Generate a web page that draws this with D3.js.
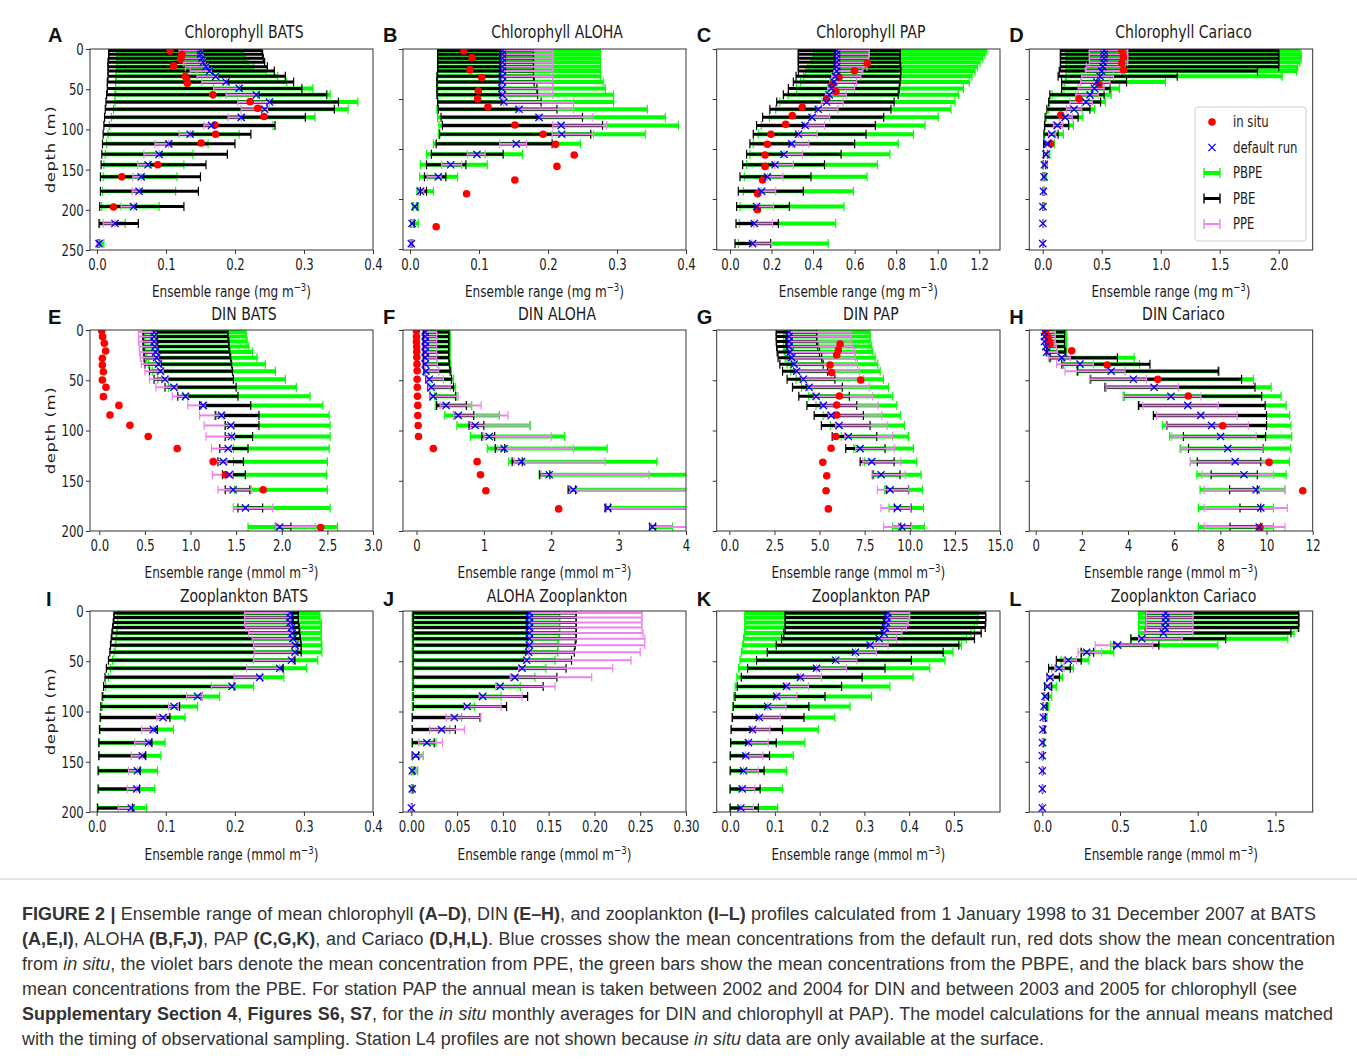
<!DOCTYPE html>
<html><head><meta charset="utf-8">
<script src="https://cdn.jsdelivr.net/npm/d3@7"></script>
<style>body{margin:0;background:#fff}svg{display:block}</style>
</head><body>
<svg id="c" width="1357" height="1060"></svg>
<script>
// ---------------- DATA ----------------
const DEPTH_CHL = [2,6.5,11.5,16.5,22,27.5,34,41,49,57,66,75,85,95,106,118,131,144,159,177,196,217,242];
const DEPTH_DIN = [2,6.5,11.5,16.5,22,27.5,34,41,49,57,66,75,85,95,106,118,131,144,159,177,196];
const DEPTH_ZOO = [2,6.5,11.5,16.5,22,27.5,34,41,49,57,66,75,85,95,106,118,131,144,159,177,196];

// A Chlorophyll BATS
const A_pbpeLo=[.029,.029,.029,.029,.029,.028,.028,.027,.027,.026,.026,.024,.021,.018,.016,.014,.012,.010,.009,.008,.007,.004,.002];
const A_pbpeHi=[.211,.212,.215,.219,.227,.245,.262,.275,.313,.338,.378,.364,.316,.255,.206,.161,.139,.126,.116,.114,.090,.041,.010];
const A_pbeLo=[.017,.017,.017,.016,.016,.016,.016,.015,.015,.014,.013,.012,.011,.010,.009,.008,.007,.006,.005,.005,.004,.003,.001];
const A_pbeHi=[.239,.240,.241,.243,.247,.257,.273,.285,.297,.333,.350,.344,.302,.258,.223,.200,.189,.158,.150,.147,.126,.060,.004];
const A_ppeLo=[.119,.120,.122,.125,.128,.135,.145,.152,.169,.187,.204,.209,.190,.155,.119,.084,.068,.059,.052,.051,.035,.009,.000];
const A_ppeHi=[.152,.152,.154,.157,.161,.166,.175,.188,.207,.233,.250,.247,.209,.168,.135,.104,.090,.076,.064,.062,.054,.026,.003];
const A_default=[.150,.150,.152,.154,.158,.163,.172,.187,.206,.231,.250,.243,.209,.166,.135,.104,.090,.074,.064,.061,.053,.026,.003];
const A_insituDepth=[2.4,6.6,9.5,12.9,21,34,38,42.7,57,65.5,73.8,84,94.5,106,117,144,159,196.5];
const A_insituValue=[.106,.123,.122,.121,.111,.128,.130,.131,.168,.222,.233,.242,.171,.172,.151,.088,.036,.024];

// B Chlorophyll ALOHA
const B_pbpeLo=[.040,.040,.040,.040,.040,.040,.040,.040,.040,.040,.040,.039,.040,.042,.041,.034,.024,.015,.014,.010,.004,.001,.000];
const B_pbpeHi=[.276,.276,.276,.276,.276,.276,.276,.280,.283,.295,.295,.344,.370,.389,.341,.247,.163,.112,.069,.034,.012,.012,.004];
const B_pbeLo=[.040,.040,.040,.040,.040,.040,.039,.039,.039,.039,.040,.041,.045,.047,.043,.038,.031,.024,.021,.015,.005,.002,.001];
const B_pbeHi=[.179,.179,.179,.179,.179,.179,.179,.180,.184,.185,.190,.213,.250,.279,.262,.206,.135,.081,.052,.024,.010,.006,.003];
const B_ppeLo=[.133,.133,.133,.133,.133,.133,.133,.133,.133,.134,.136,.158,.187,.207,.206,.130,.083,.046,.025,.012,.005,.002,.001];
const B_ppeHi=[.207,.207,.207,.207,.207,.207,.207,.207,.207,.207,.237,.237,.265,.285,.266,.169,.109,.075,.045,.020,.009,.004,.003];
const B_default=[.134,.134,.134,.134,.134,.134,.134,.134,.133,.134,.136,.158,.187,.219,.220,.154,.097,.059,.041,.015,.007,.003,.002];
const B_insituDepth=[2.4,10.6,26,35.5,52,62,72,94.5,106,118.6,131.8,146,163,180,221];
const B_insituValue=[.078,.090,.087,.104,.099,.098,.113,.152,.193,.211,.238,.213,.152,.082,.038];

// C Chlorophyll PAP
const C_pbpeLo=[.404,.404,.40,.39,.375,.365,.355,.34,.32,.28,.24,.22,.19,.15,.136,.112,.096,.08,.069,.064,.048,.045,.04];
const C_pbpeHi=[1.236,1.228,1.217,1.204,1.191,1.180,1.165,1.152,1.124,1.10,1.083,1.064,1.003,.939,.883,.81,.77,.71,.66,.594,.549,.509,.473];
const C_pbeLo=[.329,.329,.329,.329,.329,.329,.318,.305,.281,.257,.225,.192,.157,.128,.112,.096,.080,.061,.048,.040,.032,.029,.024];
const C_pbeHi=[.819,.819,.819,.819,.822,.822,.822,.819,.815,.810,.790,.775,.740,.700,.655,.600,.535,.455,.390,.353,.286,.233,.196];
const C_ppeLo=[.514,.514,.514,.514,.514,.50,.49,.48,.47,.46,.44,.42,.39,.36,.33,.30,.26,.215,.18,.15,.13,.115,.105];
const C_ppeHi=[.670,.670,.668,.665,.66,.64,.63,.61,.60,.56,.545,.52,.48,.455,.42,.38,.35,.305,.255,.22,.21,.205,.20];
const C_default=[.514,.514,.514,.514,.514,.514,.508,.500,.489,.478,.465,.425,.395,.362,.330,.297,.260,.217,.180,.152,.128,.117,.109];
const C_insituDepth=[17.8,27,35,43.5,53,62,72.5,82.9,93.7,106,118.6,131.8,146,163,180,200];
const C_insituValue=[.661,.599,.525,.493,.51,.465,.348,.30,.268,.197,.18,.169,.169,.157,.133,.132];

// D Chlorophyll Cariaco
const D_pbpeLo=[.2,.2,.2,.2,.2,.2,.2,.19,.18,.08,.06,.05,.03,.02,.015,.01,.008,.005,.004,.003,.002,.001,0];
const D_pbpeHi=[2.18,2.19,2.19,2.18,2.16,2.15,2.03,1.04,.65,.58,.53,.44,.34,.26,.175,.10,.06,.04,.03,.02,.012,.007,.004];
const D_pbeLo=[.15,.15,.15,.15,.15,.14,.13,.16,.16,.06,.05,.035,.02,.015,.01,.008,.006,.004,.003,.002,.001,0,0];
const D_pbeHi=[2.0,2.0,2.0,2.0,2.0,1.82,1.14,.71,.57,.52,.49,.40,.30,.22,.13,.07,.04,.025,.018,.012,.008,.005,.003];
const D_ppeLo=[.395,.395,.395,.395,.37,.36,.33,.32,.30,.28,.23,.20,.14,.09,.05,.03,.015,.01,.005,.003,.002,0,0];
const D_ppeHi=[.72,.72,.72,.72,.70,.66,.60,.57,.52,.47,.42,.33,.25,.17,.11,.07,.045,.03,.02,.012,.008,.004,.002];
const D_default=[.52,.52,.52,.515,.508,.50,.486,.458,.438,.40,.367,.265,.19,.124,.076,.042,.028,.014,.011,.006,.002,.001,0];
const D_insituDepth=[2,9.5,17.8,26,44,62,82,118];
const D_insituValue=[.67,.684,.67,.684,.477,.308,.153,.068];

// E DIN BATS
const E_pbpeLo=[.5,.5,.5,.5,.51,.52,.54,.58,.64,.76,.92,1.12,1.28,1.38,1.45,1.47,1.47,1.47,1.48,1.47,1.63];
const E_pbpeHi=[1.61,1.61,1.62,1.64,1.68,1.73,1.82,1.93,2.04,2.16,2.31,2.45,2.52,2.53,2.53,2.52,2.50,2.49,2.50,2.53,2.61];
const E_pbeLo=[.48,.48,.48,.48,.49,.49,.50,.55,.60,.72,.86,1.10,1.27,1.38,1.38,1.32,1.30,1.35,1.38,1.52,1.93];
const E_pbeHi=[1.41,1.41,1.42,1.42,1.43,1.44,1.45,1.46,1.47,1.50,1.52,1.66,1.75,1.75,1.68,1.63,1.58,1.60,1.65,1.79,2.10];
const E_ppeLo=[.43,.43,.43,.44,.44,.45,.46,.50,.55,.62,.80,.97,1.10,1.15,1.17,1.23,1.26,1.24,1.30,1.47,1.93];
const E_ppeHi=[.62,.62,.62,.63,.64,.65,.67,.70,.75,.85,.97,1.16,1.36,1.47,1.48,1.45,1.40,1.46,1.67,1.90,2.37];
const E_default=[.602,.602,.602,.609,.617,.628,.650,.672,.719,.818,.945,1.139,1.339,1.442,1.449,1.412,1.358,1.423,1.467,1.602,1.978];
const E_insituDepth=[.7,6.6,13.3,20.9,28.2,34.8,41.5,49.7,57,66.3,75,84.6,94.9,106,118,131,144,159,196.6];
const E_insituValue=[.026,.036,.055,.069,.033,.033,.044,.033,.073,.044,.215,.117,.336,.536,.854,1.248,1.383,1.796,2.427];

// F DIN ALOHA
const F_pbpeLo=[.12,.12,.12,.12,.12,.12,.12,.13,.16,.20,.27,.28,.42,.60,.80,1.05,1.37,1.82,2.27,2.82,3.48];
const F_pbpeHi=[.50,.50,.50,.50,.50,.50,.51,.52,.55,.58,.60,.82,1.23,1.69,2.20,2.83,3.57,4.30,4.40,4.40,3.80];
const F_pbeLo=[.10,.10,.10,.10,.10,.10,.10,.11,.14,.17,.20,.30,.55,.78,.97,1.17,1.42,1.83,2.25,2.80,3.46];
const F_pbeHi=[.48,.48,.48,.48,.48,.48,.49,.50,.52,.55,.58,.74,.85,1.00,1.16,1.31,1.57,1.98,2.36,2.88,3.55];
const F_ppeLo=[.12,.12,.12,.12,.12,.12,.12,.13,.15,.18,.20,.35,.55,.80,1.00,1.20,1.45,1.85,2.28,2.82,3.47];
const F_ppeHi=[.30,.30,.30,.30,.30,.30,.31,.33,.40,.50,.62,.96,1.36,1.68,2.00,2.33,2.80,3.45,4.50,4.50,4.50];
const F_default=[.13,.13,.13,.13,.13,.13,.13,.14,.19,.22,.25,.44,.62,.87,1.08,1.30,1.56,1.97,2.33,2.84,3.50];
const F_insituDepth=[.7,6.6,11.6,16.6,21.6,27,34,40.5,49,57,66,75,85,95,106,118,131,144,160,178];
const F_insituValue=[0,0,0,.003,.005,.005,.008,.01,.01,.012,.015,.02,.02,.025,.03,.25,.90,.95,1.03,2.11];

// G DIN PAP
const G_pbpeLo=[3.0,3.0,3.0,3.0,3.05,3.1,3.2,3.4,3.7,4.0,4.4,4.8,5.2,5.6,6.2,6.9,7.5,8.0,8.6,8.85,9.05];
const G_pbpeHi=[7.80,7.80,7.80,7.89,7.95,8.08,8.23,8.36,8.54,8.82,9.06,9.28,9.50,9.70,9.93,10.20,10.39,10.63,10.70,10.76,10.81];
const G_pbeLo=[2.60,2.60,2.60,2.62,2.65,2.70,2.80,2.95,3.20,3.50,3.85,4.30,4.70,5.10,5.70,6.45,7.25,7.95,8.70,9.15,9.50];
const G_pbeHi=[4.84,4.84,4.84,4.90,5.00,5.12,5.20,5.45,5.85,6.26,6.65,7.06,7.43,7.80,8.17,8.63,9.13,9.46,9.93,10.07,10.07];
const G_ppeLo=[3.3,3.3,3.3,3.3,3.35,3.45,3.55,3.7,4.0,4.35,4.7,5.1,5.5,5.9,6.4,7.0,7.4,7.9,8.2,8.4,8.55];
const G_ppeHi=[6.75,6.75,6.78,6.85,6.95,7.0,7.1,7.2,7.45,7.75,7.95,8.25,8.45,8.75,9.05,9.15,9.5,9.75,9.95,10.05,10.1];
const G_default=[3.31,3.31,3.31,3.31,3.37,3.46,3.59,3.73,4.10,4.42,4.81,5.21,5.64,6.08,6.60,7.25,7.89,8.41,8.91,9.32,9.56];
const G_insituDepth=[13.9,19.9,24.9,34.8,42.4,49.7,65.7,74.6,84.6,106,117.7,131.7,145,160,178];
const G_insituValue=[6.14,6.04,5.95,5.58,5.67,7.28,6.10,5.95,5.95,5.90,5.64,5.18,5.40,5.36,5.49];

// H DIN Cariaco
const H_pbpeLo=[.48,.48,.48,.50,.55,.65,1.20,1.85,2.40,3.05,3.85,4.50,5.10,5.50,5.80,6.25,6.70,6.98,7.12,7.05,7.05];
const H_pbpeHi=[1.34,1.34,1.34,1.34,1.35,4.27,4.50,7.95,9.43,10.20,10.63,10.85,11.00,11.06,11.09,11.05,10.99,10.85,10.80,10.30,10.30];
const H_pbeLo=[.45,.45,.45,.45,.48,.62,1.13,1.80,2.35,3.00,3.80,4.45,5.10,5.68,6.40,6.62,7.00,7.60,8.40,8.85,8.42];
const H_pbeHi=[1.25,1.25,1.25,1.25,1.30,3.54,4.95,7.91,8.92,9.50,9.79,9.94,10.0,10.0,9.96,9.86,9.75,9.60,9.60,9.75,9.75];
const H_ppeLo=[.35,.35,.35,.38,.42,.55,.91,1.27,2.33,3.05,3.80,4.64,5.24,5.65,5.90,6.30,6.70,7.20,7.30,7.30,7.30];
const H_ppeHi=[.85,.85,.85,.90,.95,1.50,2.50,3.87,4.80,6.18,7.16,7.91,8.73,9.21,9.55,9.85,10.08,10.30,10.80,10.90,10.80];
const H_default=[.38,.38,.38,.43,.48,1.13,1.92,3.27,4.23,5.13,5.86,6.59,7.15,7.62,8.01,8.32,8.64,9.02,9.55,9.75,9.68];
const H_insituDepth=[.7,6.6,11.6,14,20.6,34.8,49.1,65.7,95.2,131.7,160,196.7];
const H_insituValue=[.43,.52,.59,.62,1.56,3.10,5.29,6.61,8.10,10.11,11.57,9.72];

// I Zooplankton BATS
const I_pbpeLo=[.030,.030,.030,.030,.029,.028,.027,.025,.023,.020,.017,.013,.010,.008,.006,.005,.004,.004,.003,.003,.002];
const I_pbpeHi=[.323,.323,.325,.325,.325,.325,.326,.326,.320,.304,.271,.227,.178,.146,.128,.111,.099,.093,.088,.084,.072];
const I_pbeLo=[.025,.025,.024,.023,.022,.021,.020,.019,.017,.014,.012,.010,.008,.006,.005,.004,.003,.003,.002,.002,.001];
const I_pbeHi=[.292,.292,.292,.293,.294,.295,.296,.296,.287,.270,.240,.199,.153,.120,.106,.088,.080,.071,.063,.062,.052];
const I_ppeLo=[.214,.214,.214,.216,.220,.225,.227,.228,.227,.217,.199,.166,.130,.104,.087,.065,.055,.050,.046,.044,.031];
const I_ppeHi=[.280,.280,.280,.282,.283,.285,.288,.288,.284,.265,.240,.199,.153,.118,.100,.082,.075,.066,.059,.058,.050];
const I_default=[.280,.280,.280,.282,.283,.284,.287,.287,.282,.265,.236,.196,.146,.112,.096,.082,.075,.066,.059,.058,.050];

// J ALOHA Zooplankton
const J_pbpeLo=[.001,.001,.001,.001,.001,.001,.001,.001,.001,.001,.001,.001,.001,.001,.001,.001,.001,.001,.001,.001,.001];
const J_pbpeHi=[.162,.162,.162,.162,.162,.161,.160,.160,.157,.147,.135,.119,.098,.069,.055,.042,.027,.013,.007,.002,.001];
const J_pbeLo=[.002,.002,.002,.002,.002,.002,.002,.002,.002,.002,.002,.002,.002,.002,.001,.001,.001,.001,.000,.000,.000];
const J_pbeHi=[.180,.180,.180,.180,.180,.180,.179,.178,.175,.169,.159,.144,.127,.104,.075,.048,.025,.008,.003,.002,.001];
const J_ppeLo=[.129,.129,.129,.129,.129,.129,.129,.128,.124,.117,.108,.092,.074,.058,.038,.020,.008,.002,.000,.000,.000];
const J_ppeHi=[.252,.252,.252,.252,.253,.255,.255,.250,.240,.220,.197,.157,.121,.098,.076,.058,.034,.013,.005,.003,.001];
const J_default=[.129,.129,.129,.129,.129,.129,.129,.128,.126,.121,.113,.097,.078,.061,.047,.033,.017,.005,.001,.001,.000];

// K Zooplankton PAP
const K_pbpeLo=[.033,.033,.033,.033,.032,.030,.028,.025,.022,.019,.015,.011,.008,.006,.004,.003,.002,.001,.001,.000,.000];
const K_pbpeHi=[.554,.554,.552,.546,.538,.528,.517,.498,.480,.446,.409,.357,.316,.268,.234,.197,.167,.141,.126,.117,.106];
const K_pbeLo=[.123,.123,.123,.123,.120,.115,.103,.083,.059,.039,.025,.016,.011,.007,.005,.002,.001,.000,.000,.000,.000];
const K_pbeHi=[.571,.571,.571,.570,.561,.546,.511,.476,.405,.346,.295,.249,.212,.176,.165,.117,.103,.088,.076,.067,.063];
const K_ppeLo=[.353,.351,.349,.347,.344,.333,.313,.280,.236,.193,.157,.126,.104,.084,.065,.050,.041,.035,.030,.027,.024];
const K_ppeHi=[.401,.401,.398,.394,.384,.372,.353,.327,.283,.260,.204,.175,.149,.125,.112,.089,.085,.073,.063,.055,.052];
const K_default=[.353,.351,.349,.347,.344,.333,.313,.280,.236,.193,.157,.126,.104,.084,.065,.050,.041,.035,.030,.027,.024];

// L Zooplankton Cariaco
const L_pbpeLo=[.62,.62,.62,.62,.62,.57,.44,.25,.12,.06,.03,.02,.01,.006,.004,.002,.001,0,0,0,0];
const L_pbpeHi=[1.65,1.65,1.65,1.64,1.62,1.58,1.13,.46,.30,.20,.13,.09,.06,.04,.03,.02,.012,.008,.005,.003,.002];
const L_pbeLo=[.67,.67,.67,.67,.66,.57,.46,.25,.09,.04,.03,.015,.01,.005,.003,.002,.001,0,0,0,0];
const L_pbeHi=[1.65,1.65,1.65,1.65,1.60,1.18,.75,.33,.25,.18,.11,.06,.04,.03,.02,.012,.008,.005,.003,.002,.001];
const L_ppeLo=[.67,.67,.67,.67,.66,.62,.34,.23,.14,.08,.03,.02,.01,.005,.003,.001,0,0,0,0,0];
const L_ppeHi=[.97,.97,.97,.97,.97,.90,.71,.38,.22,.14,.07,.05,.03,.02,.012,.007,.004,.002,.001,.001,.001];
const L_default=[.794,.794,.794,.79,.779,.64,.485,.285,.167,.107,.049,.032,.017,.011,.006,.003,.001,0,0,0,0];

// tick values
const TICKS_DEPTH_CHL = [0,50,100,150,200,250];
const TICKS_DEPTH_CHL_SHARED = [0,62.2,124.4,186.6,248.8];
const TICKS_DEPTH_200 = [0,50,100,150,200];
const LEGEND_LABELS = ["in situ","default run","PBPE","PBE","PPE"];

// ---------------- LAYOUT / STYLE ----------------
const GREEN="#00ff00", VIOLET="#ee82ee", BLACK="#000000", RED="#ff0000", BLUE="#0000ff";
const SX = 0.78;
const FONT = "'DejaVu Sans', sans-serif";
const COLS=[{x0:90,x1:373},{x0:403,x1:686},{x0:716.7,x1:1000},{x0:1029.3,x1:1312.7}];
const ROWS=[{y0:49,y1:250,dmax:250,title:38,xt:297},{y0:330,y1:531,dmax:200,title:320,xt:578},{y0:611,y1:812,dmax:200,title:602,xt:860}];

const panels=[
 {id:"A",title:"Chlorophyll BATS",row:0,col:0,xd:[-0.0101,0.4],xt:[0,.1,.2,.3,.4],fmt:".1f",unit:"mg",depth:DEPTH_CHL,pbpe:[A_pbpeLo,A_pbpeHi],pbe:[A_pbeLo,A_pbeHi],ppe:[A_ppeLo,A_ppeHi],def:A_default,ins:[A_insituDepth,A_insituValue],yt:TICKS_DEPTH_CHL},
 {id:"B",title:"Chlorophyll ALOHA",row:0,col:1,xd:[-0.0101,0.4],xt:[0,.1,.2,.3,.4],fmt:".1f",unit:"mg",depth:DEPTH_CHL,pbpe:[B_pbpeLo,B_pbpeHi],pbe:[B_pbeLo,B_pbeHi],ppe:[B_ppeLo,B_ppeHi],def:B_default,ins:[B_insituDepth,B_insituValue],yt:TICKS_DEPTH_CHL_SHARED},
 {id:"C",title:"Chlorophyll PAP",row:0,col:2,xd:[-0.064,1.30],xt:[0,.2,.4,.6,.8,1.0,1.2],fmt:".1f",unit:"mg",depth:DEPTH_CHL,pbpe:[C_pbpeLo,C_pbpeHi],pbe:[C_pbeLo,C_pbeHi],ppe:[C_ppeLo,C_ppeHi],def:C_default,ins:[C_insituDepth,C_insituValue],yt:TICKS_DEPTH_CHL_SHARED},
 {id:"D",title:"Chlorophyll Cariaco",row:0,col:3,xd:[-0.114,2.288],xt:[0,.5,1,1.5,2],fmt:".1f",unit:"mg",depth:DEPTH_CHL,pbpe:[D_pbpeLo,D_pbpeHi],pbe:[D_pbeLo,D_pbeHi],ppe:[D_ppeLo,D_ppeHi],def:D_default,ins:[D_insituDepth,D_insituValue],yt:TICKS_DEPTH_CHL_SHARED,legend:true},
 {id:"E",title:"DIN BATS",row:1,col:0,xd:[-0.102,3.0],xt:[0,.5,1,1.5,2,2.5,3],fmt:".1f",unit:"mmol",depth:DEPTH_DIN,pbpe:[E_pbpeLo,E_pbpeHi],pbe:[E_pbeLo,E_pbeHi],ppe:[E_ppeLo,E_ppeHi],def:E_default,ins:[E_insituDepth,E_insituValue],yt:TICKS_DEPTH_200},
 {id:"F",title:"DIN ALOHA",row:1,col:1,xd:[-0.2,4.0],xt:[0,1,2,3,4],fmt:"d",unit:"mmol",depth:DEPTH_DIN,pbpe:[F_pbpeLo,F_pbpeHi],pbe:[F_pbeLo,F_pbeHi],ppe:[F_ppeLo,F_ppeHi],def:F_default,ins:[F_insituDepth,F_insituValue],yt:TICKS_DEPTH_200},
 {id:"G",title:"DIN PAP",row:1,col:2,xd:[-0.7,15],xt:[0,2.5,5,7.5,10,12.5,15],fmt:".1f",unit:"mmol",depth:DEPTH_DIN,pbpe:[G_pbpeLo,G_pbpeHi],pbe:[G_pbeLo,G_pbeHi],ppe:[G_ppeLo,G_ppeHi],def:G_default,ins:[G_insituDepth,G_insituValue],yt:TICKS_DEPTH_200},
 {id:"H",title:"DIN Cariaco",row:1,col:3,xd:[-0.277,12],xt:[0,2,4,6,8,10,12],fmt:"d",unit:"mmol",depth:DEPTH_DIN,pbpe:[H_pbpeLo,H_pbpeHi],pbe:[H_pbeLo,H_pbeHi],ppe:[H_ppeLo,H_ppeHi],def:H_default,ins:[H_insituDepth,H_insituValue],yt:TICKS_DEPTH_200},
 {id:"I",title:"Zooplankton BATS",row:2,col:0,xd:[-0.0097,0.4],xt:[0,.1,.2,.3,.4],fmt:".1f",unit:"mmol",depth:DEPTH_ZOO,pbpe:[I_pbpeLo,I_pbpeHi],pbe:[I_pbeLo,I_pbeHi],ppe:[I_ppeLo,I_ppeHi],def:I_default,yt:TICKS_DEPTH_200},
 {id:"J",title:"ALOHA Zooplankton",row:2,col:1,xd:[-0.0091,0.30],xt:[0,.05,.1,.15,.2,.25,.3],fmt:".2f",unit:"mmol",depth:DEPTH_ZOO,pbpe:[J_pbpeLo,J_pbpeHi],pbe:[J_pbeLo,J_pbeHi],ppe:[J_ppeLo,J_ppeHi],def:J_default,yt:TICKS_DEPTH_200},
 {id:"K",title:"Zooplankton PAP",row:2,col:2,xd:[-0.03,0.603],xt:[0,.1,.2,.3,.4,.5],fmt:".1f",unit:"mmol",depth:DEPTH_ZOO,pbpe:[K_pbpeLo,K_pbpeHi],pbe:[K_pbeLo,K_pbeHi],ppe:[K_ppeLo,K_ppeHi],def:K_default,yt:TICKS_DEPTH_200},
 {id:"L",title:"Zooplankton Cariaco",row:2,col:3,xd:[-0.084,1.74],xt:[0,.5,1,1.5],fmt:".1f",unit:"mmol",depth:DEPTH_ZOO,pbpe:[L_pbpeLo,L_pbpeHi],pbe:[L_pbeLo,L_pbeHi],ppe:[L_ppeLo,L_ppeHi],def:L_default,yt:TICKS_DEPTH_200}
];

const svg=d3.select("#c");
svg.append("rect").attr("width",1357).attr("height",1060).attr("fill","#fff");
const defs=svg.append("defs");

function sText(parent,x,y,str,size,anchor,rot){
  return parent.append("text")
    .attr("transform",`translate(${x},${y}) scale(${SX},1)`+(rot?` rotate(${rot})`:""))
    .attr("font-family",FONT).attr("font-size",size).attr("text-anchor",anchor||"middle")
    .attr("fill","#1a1a1a").text(str);
}

function errBars(g,depths,lo,hi,x,y,color,w,cap){
  const rows=depths.map((d,i)=>({d,lo:lo[i],hi:hi[i]}));
  g.append("g").selectAll("line").data(rows).join("line")
    .attr("x1",r=>x(r.lo)).attr("x2",r=>x(r.hi)).attr("y1",r=>y(r.d)).attr("y2",r=>y(r.d))
    .attr("stroke",color).attr("stroke-width",w);
  const caps=rows.flatMap(r=>[{d:r.d,v:r.lo},{d:r.d,v:r.hi}]);
  g.append("g").selectAll("line").data(caps).join("line")
    .attr("x1",c=>x(c.v)).attr("x2",c=>x(c.v)).attr("y1",c=>y(c.d)-cap).attr("y2",c=>y(c.d)+cap)
    .attr("stroke",color).attr("stroke-width",1.2);
}
const CROSS="M-3.6,-3.6L3.6,3.6M-3.6,3.6L3.6,-3.6";

panels.forEach(p=>{
  const C=COLS[p.col], R=ROWS[p.row];
  const x=d3.scaleLinear().domain(p.xd).range([C.x0,C.x1]);
  const y=d3.scaleLinear().domain([0,R.dmax]).range([R.y0,R.y1]);
  const g=svg.append("g");
  defs.append("clipPath").attr("id","clip"+p.id).append("rect")
    .attr("x",C.x0).attr("y",R.y0).attr("width",C.x1-C.x0).attr("height",R.y1-R.y0);
  const plot=g.append("g").attr("clip-path",`url(#clip${p.id})`);
  errBars(plot,p.depth,p.pbpe[0],p.pbpe[1],x,y,GREEN,4,4.5);
  errBars(plot,p.depth,p.pbe[0],p.pbe[1],x,y,BLACK,3,4.5);
  errBars(plot,p.depth,p.ppe[0],p.ppe[1],x,y,VIOLET,2,4.2);
  if(p.ins){
    plot.append("g").selectAll("circle").data(d3.zip(p.ins[0],p.ins[1])).join("circle")
      .attr("cx",d=>x(d[1])).attr("cy",d=>y(d[0])).attr("r",3.8).attr("fill",RED);
  }
  plot.append("g").selectAll("path").data(d3.zip(p.depth,p.def)).join("path")
    .attr("transform",d=>`translate(${x(d[1])},${y(d[0])})`).attr("d",CROSS)
    .attr("stroke",BLUE).attr("stroke-width",1.3).attr("fill","none");

  // axes
  const ax=g.append("g").attr("transform",`translate(0,${R.y1})`)
    .call(d3.axisBottom(x).tickValues(p.xt).tickFormat(d3.format(p.fmt)).tickSize(4).tickPadding(5));
  const ay=g.append("g").attr("transform",`translate(${C.x0},0)`)
    .call(d3.axisLeft(y).tickValues(p.yt).tickFormat(p.col===0?d3.format("d"):()=>"").tickSize(4).tickPadding(4));
  [ax,ay].forEach(a=>{
    a.select(".domain").remove();
    a.selectAll("line").attr("stroke","#333");
    a.selectAll("text").attr("font-family",FONT).attr("font-size",15).attr("fill","#1a1a1a")
      .attr("transform",`scale(${SX},1)`);
  });
  ay.selectAll("text").attr("dy","0.36em");
  // frame
  g.append("rect").attr("x",C.x0).attr("y",R.y0).attr("width",C.x1-C.x0).attr("height",R.y1-R.y0)
    .attr("fill","none").attr("stroke","#333").attr("stroke-width",1);

  // title
  sText(g,(C.x0+C.x1)/2+12.5,R.title,p.title,18);
  // x label
  const xl=g.append("text").attr("transform",`translate(${(C.x0+C.x1)/2},${R.xt}) scale(${SX},1)`)
    .attr("font-family",FONT).attr("font-size",15.5).attr("text-anchor","middle").attr("fill","#1a1a1a");
  xl.append("tspan").text(`Ensemble range (${p.unit} m`);
  xl.append("tspan").attr("dy",-6).attr("font-size",11).text("\u22123");
  xl.append("tspan").attr("dy",6).text(")");
  // y label
  if(p.col===0) sText(g,55,(R.y0+R.y1)/2,"depth (m)",16.5,"middle",-90).attr("letter-spacing",0.6);
  // letter
  g.append("text").attr("x",p.col===0?(p.id==="I"?46:48):C.x0-20).attr("y",R.title+4)
    .attr("font-family","'Liberation Sans', Arial, sans-serif").attr("font-weight","bold")
    .attr("font-size",20).attr("fill","#111").text(p.id);

  if(p.legend){
    const lg=g.append("g");
    lg.append("rect").attr("x",1195).attr("y",107).attr("width",111).attr("height",134).attr("rx",3)
      .attr("fill","#fff").attr("fill-opacity",0.85).attr("stroke","#d0d0d0");
    const ly=d3.scalePoint().domain(LEGEND_LABELS).range([122,224]);
    const mx=1212;
    lg.append("circle").attr("cx",mx).attr("cy",ly("in situ")).attr("r",3.8).attr("fill",RED);
    lg.append("path").attr("transform",`translate(${mx},${ly("default run")})`).attr("d",CROSS)
      .attr("stroke",BLUE).attr("stroke-width",1.3).attr("fill","none");
    [["PBPE",GREEN,4],["PBE",BLACK,3],["PPE",VIOLET,2]].forEach(([k,c,w])=>{
      const yy=ly(k);
      lg.append("line").attr("x1",mx-8).attr("x2",mx+8).attr("y1",yy).attr("y2",yy).attr("stroke",c).attr("stroke-width",w);
      [mx-8,mx+8].forEach(xx=>lg.append("line").attr("x1",xx).attr("x2",xx).attr("y1",yy-5).attr("y2",yy+5).attr("stroke",c).attr("stroke-width",1.4));
    });
    LEGEND_LABELS.forEach(k=>sText(lg,1233,ly(k)+5,k,15,"start"));
  }
});

// separator
svg.append("line").attr("x1",0).attr("x2",1357).attr("y1",879).attr("y2",879).attr("stroke","#c8c8c8").attr("stroke-width",1);

// caption
const CAPTION=[
 [["b","FIGURE 2 |"],["n"," Ensemble range of mean chlorophyll "],["b","(A–D)"],["n",", DIN "],["b","(E–H)"],["n",", and zooplankton "],["b","(I–L)"],["n"," profiles calculated from 1 January 1998 to 31 December 2007 at BATS"]],
 [["b","(A,E,I)"],["n",", ALOHA "],["b","(B,F,J)"],["n",", PAP "],["b","(C,G,K)"],["n",", and Cariaco "],["b","(D,H,L)"],["n",". Blue crosses show the mean concentrations from the default run, red dots show the mean concentration"]],
 [["n","from "],["i","in situ"],["n",", the violet bars denote the mean concentration from PPE, the green bars show the mean concentrations from the PBPE, and the black bars show the"]],
 [["n","mean concentrations from the PBE. For station PAP the annual mean is taken between 2002 and 2004 for DIN and between 2003 and 2005 for chlorophyll (see"]],
 [["b","Supplementary Section 4"],["n",", "],["b","Figures S6, S7"],["n",", for the "],["i","in situ"],["n"," monthly averages for DIN and chlorophyll at PAP). The model calculations for the annual means matched"]],
 [["n","with the timing of observational sampling. Station L4 profiles are not shown because "],["i","in situ"],["n"," data are only available at the surface."]]
];
const CAP_END=[1316,1335,1304,1297,1333,1045];
const capX=22, capY0=920, capDY=25;
let fs=16.5;
const capG=svg.append("g");
function mkLine(i,size){
  const t=capG.append("text").attr("x",capX).attr("y",capY0+i*capDY)
    .attr("font-family","'Liberation Sans', Arial, sans-serif").attr("font-size",size).attr("fill","#333");
  CAPTION[i].forEach(([s,str])=>{
    const ts=t.append("tspan").text(str);
    if(s==="b") ts.attr("font-weight","bold");
    if(s==="i") ts.attr("font-style","italic");
  });
  return t;
}
// calibrate font size from last line
const probe=mkLine(5,fs);
const w5=probe.node().getComputedTextLength();
fs=fs*(CAP_END[5]-capX)/w5;
probe.remove();
CAPTION.forEach((ln,i)=>{
  const t=mkLine(i,fs);
  if(i<5){
    const w=t.node().getComputedTextLength();
    const spaces=ln.map(d=>d[1]).join("").split(" ").length-1;
    const ws=(CAP_END[i]-capX-w)/spaces;
    t.attr("word-spacing",ws);
  }
});
</script>
</body></html>
